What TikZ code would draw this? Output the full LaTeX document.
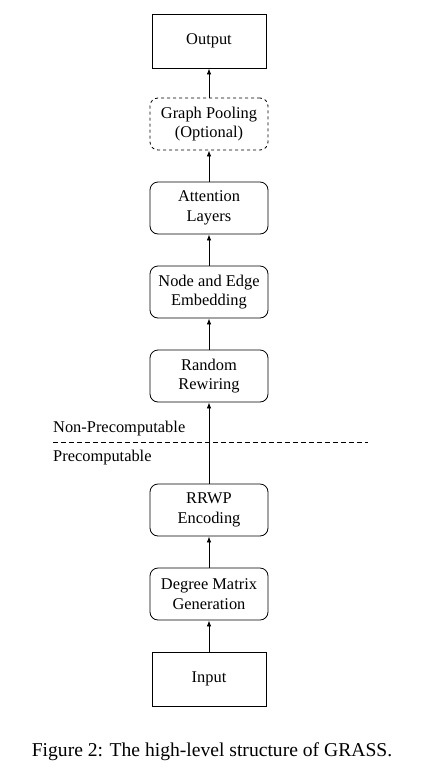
\documentclass[tikz,border=0pt]{standalone}
\usepackage{fontspec}
\setmainfont{Liberation Serif}
\usetikzlibrary{arrows.meta}
\begin{document}
\begin{tikzpicture}[x=1pt,y=-1pt,
  every node/.style={font=\fontsize{16.4}{19.5}\selectfont},
  plainbox/.style={draw,thick,minimum width=114pt,minimum height=54pt,align=center,inner sep=0pt},
  roundbox/.style={draw,thick,rounded corners=8pt,minimum width=118pt,minimum height=52pt,align=center,inner sep=0pt},
  arr/.style={thick,-{Latex[length=6pt,width=4.5pt]}},
  lbl/.style={anchor=west,inner sep=0pt}]
\useasboundingbox (0,0) rectangle (437,769);
\node[plainbox] (out) at (209,41) {Output};
\node[roundbox,dashed] (pool) at (209,124) {Graph Pooling\\(Optional)};
\node[roundbox] (att) at (209,208) {Attention\\Layers};
\node[roundbox] (emb) at (209,292) {Node and Edge\\Embedding};
\node[roundbox] (rew) at (209,376) {Random\\Rewiring};
\node[roundbox] (rrwp) at (209,510) {RRWP\\Encoding};
\node[roundbox] (deg) at (209,594) {Degree Matrix\\Generation};
\node[plainbox] (in) at (209,679) {Input};
\coordinate (dl) at (53,442);
\coordinate (dr) at (368,442);
\draw[thick,dash pattern=on 5pt off 3pt] (dl) -- (dr);
\node[lbl] (np) at (53,429) {Non-Precomputable};
\node[lbl] (pc) at (53,458) {Precomputable};
\draw[arr] (in) -- (deg);
\draw[arr] (deg) -- (rrwp);
\draw[arr] (rrwp) -- (rew);
\draw[arr] (rew) -- (emb);
\draw[arr] (emb) -- (att);
\draw[arr] (att) -- (pool);
\draw[arr] (pool) -- (out);
\node[font=\fontsize{19.6}{23}\selectfont] (cap) at (212,752) {Figure 2: The high-level structure of GRASS.};
\end{tikzpicture}
\end{document}
